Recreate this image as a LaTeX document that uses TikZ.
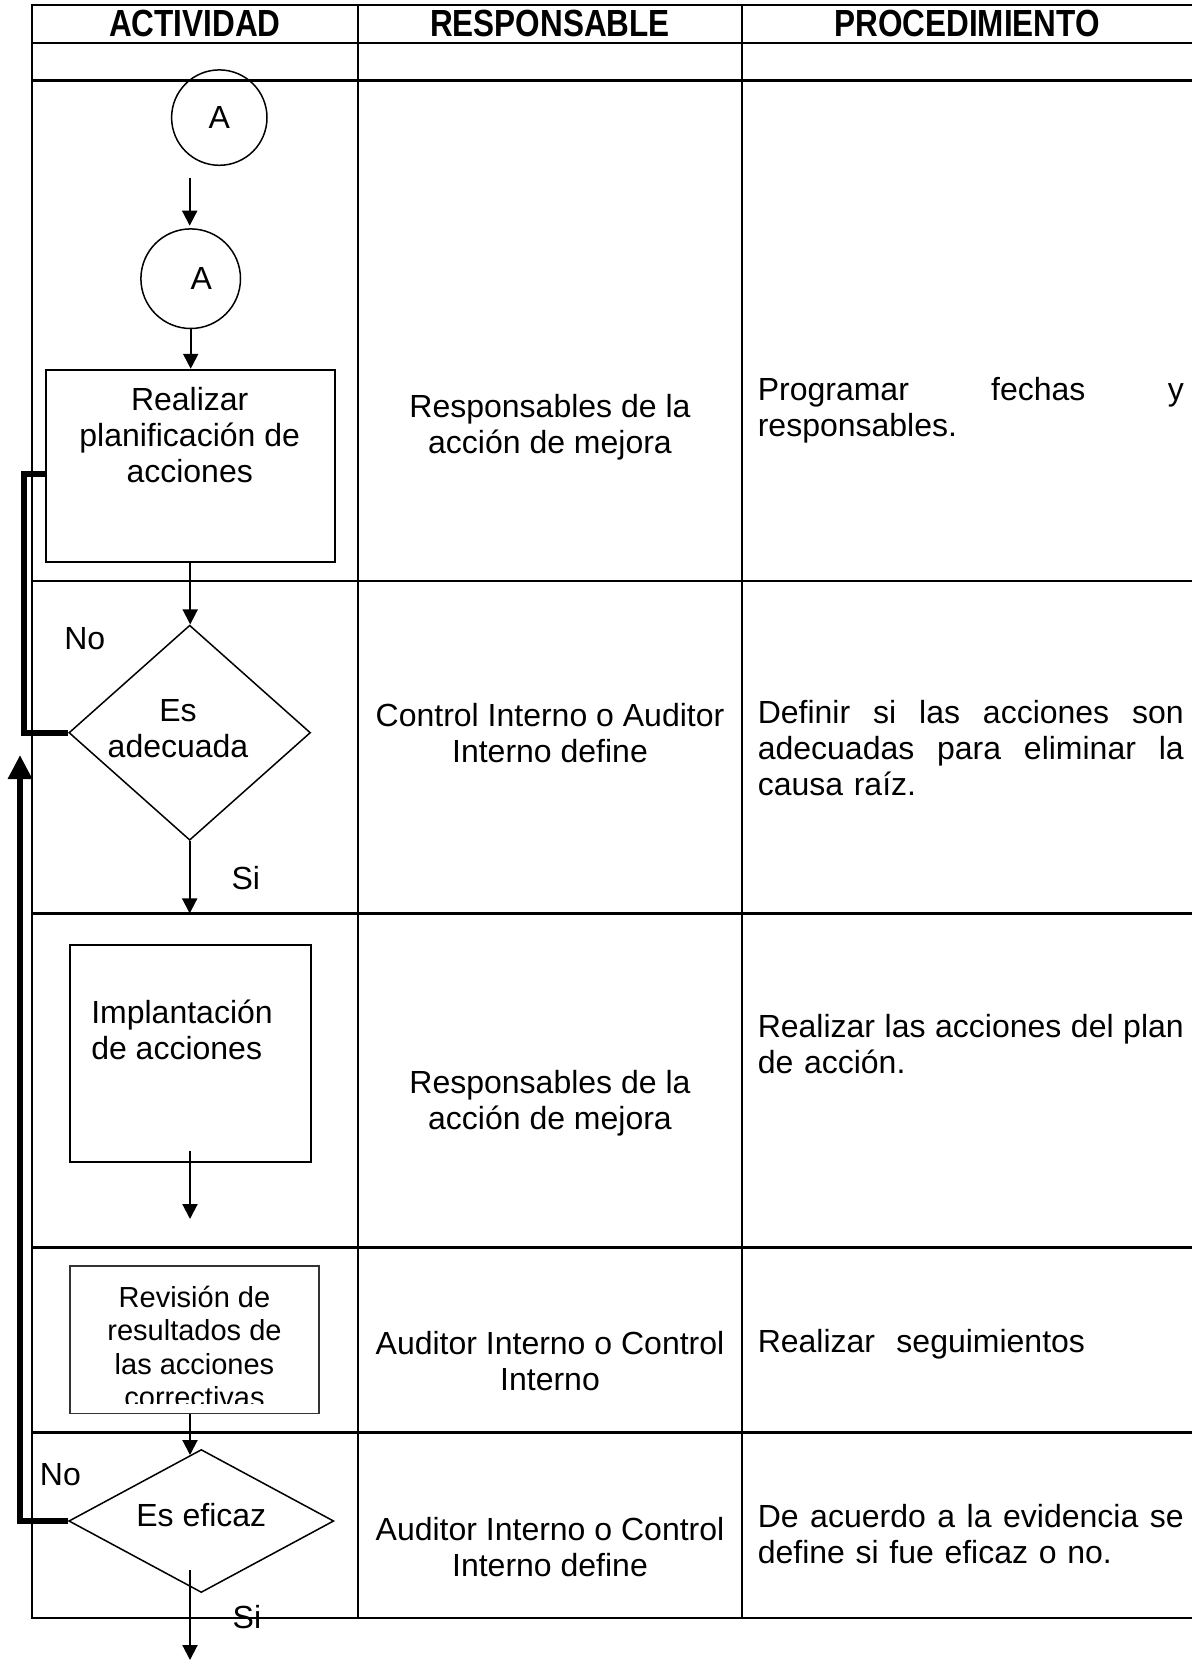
\documentclass[tikz,border=0pt]{standalone}
\usepackage{fontspec}
\usepackage{graphicx}
\setmainfont{Liberation Sans}
\usetikzlibrary{arrows.meta,shapes.geometric}
\newcommand\myBody{\fontsize{32}{36}\selectfont}
\newcommand\myHdr{\fontsize{31.5}{36}\selectfont\bfseries}
\newcommand\mySmall{\fontsize{29}{33.5}\selectfont}
\newcommand\tallHdr[1]{\scalebox{1}[1.2]{#1}}
\begin{document}
\begin{tikzpicture}[x=1pt,y=-1pt,
  grid/.style={line width=2.3pt},
  txt/.style={font=\myBody,inner sep=0pt,align=center},
  hdr/.style={font=\myHdr,inner sep=0pt},
  proc/.style={font=\myBody,inner sep=0pt,anchor=north west,text width=426pt,align=left},
  circ/.style={draw,circle,line width=1.5pt,inner sep=0pt},
  boxa/.style={draw,rectangle,line width=2pt,inner sep=0pt},
  boxc/.style={draw=black!80,rectangle,line width=1.6pt,inner sep=0pt},
  dia/.style={draw,diamond,line width=1.5pt,inner sep=0pt},
  arr/.style={line width=2pt,-{Triangle[width=15pt,length=15pt]}},
  thk/.style={line width=6pt},
  thkarr/.style={line width=6pt,-{Triangle[width=23pt,length=24pt]}}]
\useasboundingbox (0,0) rectangle (1192,1662);
% table
\draw[grid] (1192,5) -- (31.8,5) -- (31.8,1618) -- (1192,1618);
\foreach \yy in {43,80.5,580.7,913.4,1247.5,1432.6}
  \draw[grid] (31.8,\yy) -- (1192,\yy);
\draw[grid] (358.1,5) -- (358.1,1618);
\draw[grid] (741.7,5) -- (741.7,1618);
% header
\node[hdr] (h1) at (195,23.3) {\tallHdr{ACTIVIDAD}};
\node[hdr] (h2) at (550,23.3) {\tallHdr{RESPONSABLE}};
\node[hdr] (h3) at (967,23.3) {\tallHdr{PROCEDIMIENTO}};
% activity column
\node[circ,minimum size=95.4pt,font=\myBody] (c1) at (219.3,117.6) {A};
\node[circ,minimum size=99.6pt] (c2) at (190.7,278.7) {};
\node[txt] (c2t) at (201.3,278.7) {A};
\coordinate (a1s) at (189.7,177.6);
\coordinate (a1e) at (189.7,225.7);
\draw[arr] (a1s) -- (a1e);
\node[boxa,minimum width=289.2pt,minimum height=191.8pt] (b1) at (190.2,465.7) {};
\node[txt] (b1t) at (189.7,435) {Realizar\\planificación de\\acciones};
\draw[arr] (c2.south) -- (c2.south |- b1.north);
\node[dia,minimum width=241.6pt,minimum height=215.1pt] (d1) at (189.7,732.7) {};
\node[txt] (d1t) at (178,729) {Es\\adecuada};
\draw[arr] (b1.south) -- (b1.south |- d1.north);
\node[txt] (no1) at (84.8,639) {No};
\node[txt] (si1) at (245.8,878.4) {Si};
\coordinate (r4) at (189.7,913.4);
\draw[arr] (d1.south) -- (r4);
\coordinate (fbA) at (24,473.6);
\draw[thk] (b1.west |- fbA) -- (fbA) -- (fbA |- d1.west) -- (d1.west);
\node[boxa,minimum width=240.5pt,minimum height=216.8pt] (b2) at (190.25,1053.6) {};
\node[txt,anchor=west,align=left] (b2t) at (91.1,1030) {Implantación\\de acciones};
\coordinate (a3s) at (190,1150.7);
\coordinate (a3e) at (190,1219);
\draw[arr] (a3s) -- (a3e);
\begin{scope}
\clip (70,1266.2) rectangle (319,1403.5);
\node[txt,font=\mySmall] (b3t) at (194.5,1347) {Revisión de\\resultados de\\las acciones\\correctivas};
\end{scope}
\node[boxc,minimum width=249pt,minimum height=147.3pt] (b3) at (194.5,1339.85) {};
\node[dia,minimum width=265pt,minimum height=143pt] (d2) at (201.3,1521) {};
\node[txt] (d2t) at (201.3,1515) {Es eficaz};
\coordinate (a4) at (190,1455);
\draw[arr] (b3.south -| a4) -- (a4);
\node[txt] (no2) at (60.4,1475) {No};
\node[txt] (si2) at (246.9,1617) {Si};
\coordinate (a5s) at (190,1570);
\coordinate (a5e) at (190,1660);
\draw[arr] (a5s) -- (a5e);
\coordinate (fbB) at (20,755);
\draw[thkarr] (d2.west) -- (fbB |- d2.west) -- (fbB);
% responsible column
\node[txt] (r3) at (550,427) {Responsables de la\\acción de mejora};
\node[txt] (r4t) at (550,733) {Control Interno o Auditor\\Interno define};
\node[txt] (r5) at (550,1103) {Responsables de la\\acción de mejora};
\node[txt] (r6) at (550,1361) {Auditor Interno o Control\\Interno};
\node[txt] (r7) at (550,1547) {Auditor Interno o Control\\Interno define};
% procedure column
\node[proc] (p3) at (757.6,377.4) {Programar\hfill fechas\hfill y\\responsables.};
\node[proc] (p4) at (757.6,700.5) {Definir\hfill si\hfill las\hfill acciones\hfill son\\adecuadas\hfill para\hfill eliminar\hfill la\\causa raíz.};
\node[proc] (p5) at (757.6,1014.2) {Realizar\hfill las\hfill acciones\hfill del\hfill plan\\de acción.};
\node[proc] (p6) at (757.6,1328.9) {Realizar\ \ seguimientos};
\node[proc] (p7) at (757.6,1503.7) {De\hfill acuerdo\hfill a\hfill la\hfill evidencia\hfill se\\define si fue eficaz o no.};
\end{tikzpicture}
\end{document}
